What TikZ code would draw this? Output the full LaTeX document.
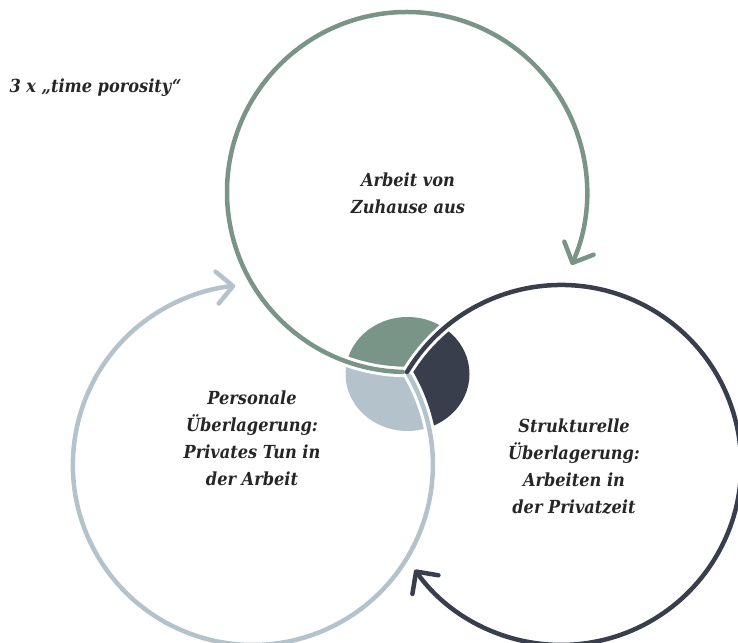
\documentclass[tikz,border=0pt]{standalone}
\usepackage{fontspec}
\setmainfont{DejaVu Serif Condensed}
\usepackage{xcolor}
\usetikzlibrary{arrows.meta}
\definecolor{sage}{RGB}{121,149,136}
\definecolor{slate}{RGB}{57,62,77}
\definecolor{mist}{RGB}{180,195,203}
\newcommand{\ringr}{180pt}

\tikzset{
  ring/.style={line width=4.5pt, line cap=round, -{Straight Barb[length=16pt,width=32pt,round]}},
  gapline/.style={line width=10.5pt, white},
  lbl/.style={align=center, text=black!85, font=\bfseries\itshape\fontsize{18}{27}\selectfont}
}

\begin{document}
\begin{tikzpicture}[x=1pt, y=1pt]
    \useasboundingbox (0,0) rectangle (738,642);
    \clip (0,0) rectangle (738,642);

    % Centres and meeting point
    \coordinate (G) at (407,450);
    \coordinate (L) at (253,177);
    \coordinate (D) at (561,177);
    \coordinate (J) at (407,270);
    \coordinate (P) at (407.5,268);

    % Centre disc, split by the three rings
    \begin{scope}
        \clip (P) ellipse [x radius=62pt, y radius=57pt];
        \begin{scope}
            \clip (G) circle [radius=\ringr];
            \fill[sage, even odd rule] (300,150) rectangle (520,380) (D) circle [radius=\ringr];
        \end{scope}
        \begin{scope}
            \clip (D) circle [radius=\ringr];
            \fill[slate, even odd rule] (300,150) rectangle (520,380) (L) circle [radius=\ringr];
        \end{scope}
        \begin{scope}
            \clip (L) circle [radius=\ringr];
            \fill[mist, even odd rule] (300,150) rectangle (520,380) (G) circle [radius=\ringr];
        \end{scope}
    \end{scope}

    % Top ring
    \draw[gapline] (J) arc [start angle=-90, end angle=-130, radius=\ringr];
    \draw[ring, sage] (J) arc [start angle=-90, end angle=-383.9, radius=\ringr];

    % Left ring
    \draw[gapline] (J) arc [start angle=31.1, end angle=-10, radius=\ringr];
    \draw[ring, mist] (J) arc [start angle=31.1, end angle=-264.4, radius=\ringr];

    % Right ring
    \draw[gapline] (J) arc [start angle=148.9, end angle=108, radius=\ringr];
    \draw[ring, slate] (J) arc [start angle=148.9, end angle=-144.4, radius=\ringr];

    % Labels
    \node[lbl] (home) at (408,449) {Arbeit von\\Zuhause aus};
    \node[lbl] (personal) at (252,204) {Personale\\Überlagerung:\\Privates Tun in\\der Arbeit};
    \node[lbl] (structural) at (574,175) {Strukturelle\\Überlagerung:\\Arbeiten in\\der Privatzeit};
    \node[lbl, anchor=west] (title) at (6,554) {3 x „time porosity“};
\end{tikzpicture}
\end{document}
